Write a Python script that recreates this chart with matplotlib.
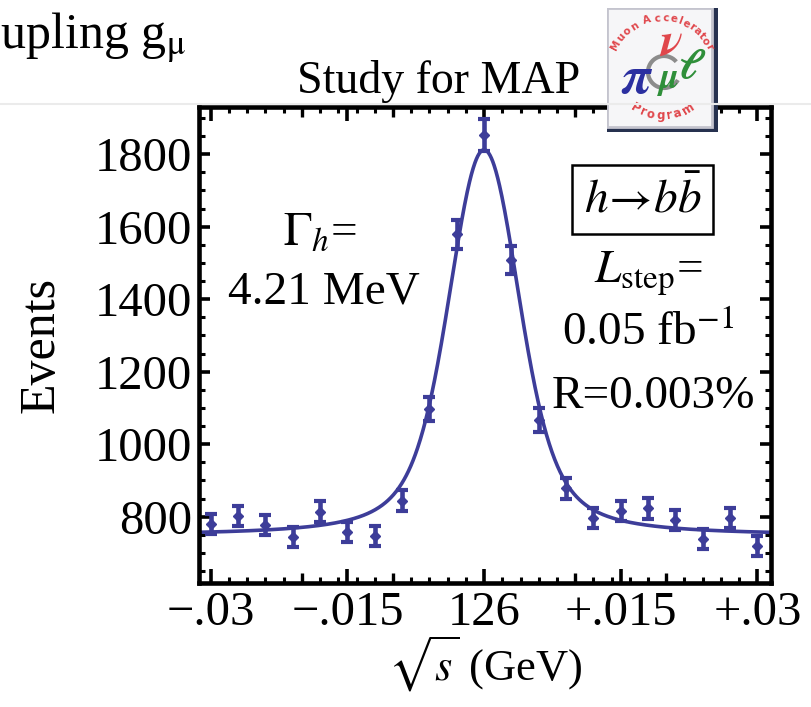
import numpy as np
import matplotlib
matplotlib.use("Agg")
import matplotlib.pyplot as plt
import matplotlib.patches as mpatches
from matplotlib.ticker import MultipleLocator

# ── Data (scan points around sqrt(s) = 126 GeV, offsets in GeV) ─────────────
offsets = [-0.030, -0.027, -0.024, -0.021, -0.018, -0.015, -0.012, -0.009,
           -0.006, -0.003, 0.000, 0.003, 0.006, 0.009, 0.012, 0.015,
           0.018, 0.021, 0.024, 0.027, 0.030]
events = [779, 802, 777, 743, 814, 757, 747, 844, 1096, 1579, 1853,
          1508, 1067, 878, 796, 816, 823, 791, 738, 797, 719]

x_ticks = [-0.03, -0.015, 0.0, 0.015, 0.03]
x_labels = ["\u2212.03", "\u2212.015", "126", "+.015", "+.03"]
x_mid_ticks = [-0.02, -0.01, 0.01, 0.02]
y_ticks = [800, 1000, 1200, 1400, 1600, 1800]

# fit parameters (Breit-Wigner smeared by beam energy spread)
GAMMA_H = 4.21e-3   # GeV
SIGMA_E = 2.9e-3    # GeV
BKG = 748.0
SIG = 1064.0

_BLUE = "#3d3d99"
_RED = "#e0474c"
_GREEN = "#2f8f3a"
_PI = "#2b2fa0"

plt.rcParams["font.family"] = ["Liberation Serif", "DejaVu Serif"]
plt.rcParams["mathtext.fontset"] = "stix"

W, H = 811, 707
fig = plt.figure(figsize=(W / 100, H / 100), dpi=100)
fig.patch.set_facecolor("white")

# faint slide divider
fig.add_artist(plt.Line2D([0, 1], [1 - 104 / H, 1 - 104 / H], color="#ebebeb",
                          lw=1.5, transform=fig.transFigure))

fig.text(-58 / W, 1 - 48 / H, "Coupling g$_{\\mathrm{\u03bc}}$", fontsize=36,
         ha="left", va="baseline")
fig.text(297 / W, 1 - 93 / H, "Study for MAP", fontsize=33,
         ha="left", va="baseline")

# ── Main axes ────────────────────────────────────────────────────────────────
ax = fig.add_axes([199 / W, 1 - 583 / H, 572 / W, 476 / H])
ax.set_xlim(-0.0313, 0.0315)
ax.set_ylim(617, 1930)

grid = np.linspace(-0.08, 0.08, 3201)
bw = 1.0 / (grid ** 2 + (GAMMA_H / 2) ** 2)
gauss = np.exp(-0.5 * (grid / SIGMA_E) ** 2)
shape = np.convolve(bw, gauss, mode="same")
shape /= shape.max()
fit = BKG + SIG * shape
ax.plot(grid, fit, color=_BLUE, lw=2.6, zorder=2)

ax.errorbar(offsets, events, yerr=np.sqrt(events), fmt="D", color=_BLUE,
            ms=5, elinewidth=3.3, capsize=4.2, capthick=3.0, zorder=3)

for sp in ax.spines.values():
    sp.set_linewidth(3.3)

ax.set_xticks(x_ticks, x_labels)
ax.set_yticks(y_ticks)
ax.xaxis.set_minor_locator(MultipleLocator(0.002))
ax.yaxis.set_minor_locator(MultipleLocator(50))
ax.tick_params(which="both", direction="in", top=True, right=True,
               labelsize=35)
ax.tick_params(axis="x", which="major", length=10, width=2.6, pad=6)
ax.tick_params(axis="y", which="major", length=8, width=2.6, pad=5)
ax.tick_params(which="minor", length=4.5, width=2.2)

for loc in ("bottom", "top"):
    sec = ax.secondary_xaxis(loc)
    sec.set_xticks(x_mid_ticks, [""] * len(x_mid_ticks))
    sec.tick_params(direction="in", length=7, width=2.4)
    for sp in sec.spines.values():
        sp.set_visible(False)

ax.set_ylabel("Events", fontsize=36, labelpad=22)
ax.set_xlabel(r"$\sqrt{s}$ (GeV)", fontsize=32, labelpad=-1)

# ── Annotations ─────────────────────────────────────────────────────────────
tk = dict(transform=ax.transAxes, ha="center", va="baseline", fontsize=34)
ax.text(0.211, 0.71, r"$\Gamma_h$=", **tk)
ax.text(0.218, 0.588, "4.21 MeV", **tk)
ax.text(0.776, 0.778, r"$h\!\rightarrow\! b\bar{b}$", transform=ax.transAxes,
        ha="center", va="baseline", fontsize=34,
        bbox=dict(boxstyle="square,pad=0.25", fc="white", ec="black", lw=1.8))
ax.text(0.785, 0.63, r"$L_{\rm step}$=", **tk)
ax.text(0.785, 0.50, "0.05 fb$^{-1}$", **tk)
ax.text(0.795, 0.368, "R=0.003%", **tk)

# ── MAP logo (approximation) ────────────────────────────────────────────────
lg = fig.add_axes([607 / W, 1 - 132 / H, 111 / W, 124 / H])
lg.set_xlim(0, 111)
lg.set_ylim(0, 124)
lg.axis("off")
lg.add_patch(mpatches.Rectangle((0, 0), 111, 124, fc="#26314f", ec="none"))
lg.add_patch(mpatches.Rectangle((0, 5), 105, 119, fc="#f6f6f8",
                                ec="#c4c4ce", lw=2))

_NARROW = set("ilrt ")


def arc_text(axx, s, cx, cy, r, a0, a1, top=True, **kw):
    # spread characters along the arc according to rough glyph widths
    w = np.array([0.55 if c in _NARROW else (1.35 if c in "MmA" else 1.0)
                  for c in s])
    pos = (np.cumsum(w) - w / 2) / w.sum()
    for ch, p in zip(s, pos):
        a = a0 + (a1 - a0) * p
        t = np.radians(a)
        rot = a - 90 if top else a + 90
        axx.text(cx + r * np.cos(t), cy + r * np.sin(t), ch, rotation=rot,
                 ha="center", va="center", rotation_mode="anchor", **kw)


arc_text(lg, "Muon Accelerator", 55, 62, 52, 158, 24, top=True,
         color=_RED, fontsize=7.5, family="DejaVu Sans", fontweight="bold")
arc_text(lg, "Program", 55, 66, 50, 232, 310, top=False,
         color=_RED, fontsize=8.5, family="DejaVu Sans", fontweight="bold")
lg.add_patch(mpatches.Arc((57, 60), 32, 32, theta1=40, theta2=330,
                          color="#8c8c8c", lw=3))
lg.text(64, 88, r"$\boldsymbol{\nu}$", color=_RED, fontsize=34,
        ha="center", va="center")
lg.text(30, 52, r"$\boldsymbol{\pi}$", color=_PI, fontsize=38,
        ha="center", va="center")
lg.text(61, 50, r"$\boldsymbol{\mu}$", color=_GREEN, fontsize=26,
        ha="center", va="center")
lg.text(85, 64, r"$\boldsymbol{\ell}$", color=_GREEN, fontsize=30,
        ha="center", va="center")

fig.savefig("out.png", dpi=100, facecolor="white")
